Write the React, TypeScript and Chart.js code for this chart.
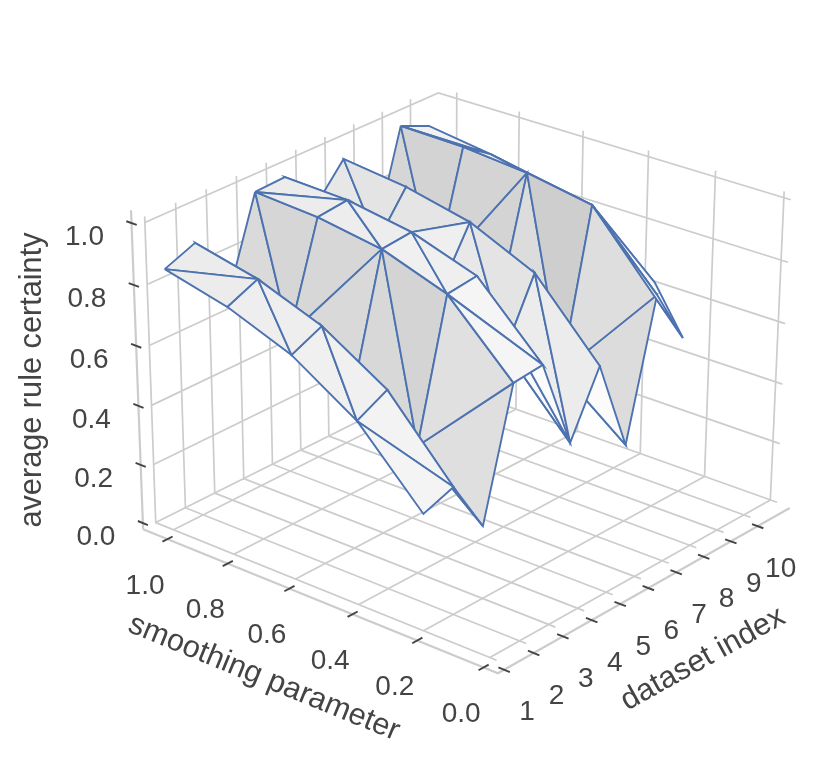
import React, { useEffect, useRef } from "react";
import { Chart, registerables } from "chart.js";
Chart.register(...registerables);

// ---- data -----------------------------------------------------------------
const datasetIndex = [1, 2, 3, 4, 5, 6, 7, 8, 9, 10];
const smoothing = [1, 0.8, 0.6, 0.4, 0.2];
const smoothingOfDataset10 = [1, 0.8, 0.6, 0.288, 0.2];
const smoothingTicks = [1, 0.8, 0.6, 0.4, 0.2, 0];
const certaintyTicks = [0, 0.2, 0.4, 0.6, 0.8, 1];

const certainty1 = [0.871, 0.82, 0.739, 0.604, 0.384];
const certainty2 = [0.911, 0.864, 0.785, 0.655, 0.42];
const certainty3 = [0.679, 0.636, 0.524, 0.424, 0.241];
const certainty4 = [0.988, 0.974, 0.94, 0.867, 0.657];
const certainty5 = [0.993, 0.985, 0.95, 0.879, 0.667];
const certainty6 = [0.852, 0.805, 0.721, 0.593, 0.364];
const certainty7 = [0.967, 0.941, 0.894, 0.798, 0.568];
const certainty8 = [0.637, 0.605, 0.559, 0.426, 0.258];
const certainty9 = [0.992, 0.987, 0.967, 0.929, 0.707];
const certainty10 = [0.95, 0.92, 0.88, 0.669, 0.519];
const certainty = [certainty1, certainty2, certainty3, certainty4, certainty5, certainty6, certainty7, certainty8, certainty9, certainty10];

// which diagonal splits each mesh cell
type Diag = "A" | "B";
const diagonals: Diag[][] = [
  ["A", "B", "B", "A"], ["B", "B", "B", "B"], ["B", "A", "B", "A"],
  ["A", "B", "B", "A"], ["B", "B", "A", "A"], ["B", "B", "B", "B"],
  ["B", "B", "B", "B"], ["B", "A", "B", "A"], ["A", "B", "B", "A"],
];

// ---- 3D box limits and camera ---------------------------------------------
const DF = 1, DM = 11, VF = -0.02, VM = 1.06, ZF = 0, ZM = 1.02;
const dD = (DM - DF) / 48, dV = (VM - VF) / 48, dZ = (ZM - ZF) / 48;

const cameraFit: number[][] = [
  [1, VM, 0, 152, 523], [1, VM, 1, 141, 221], [8, VM, 0, 355, 425], [8, VM, 1, 350, 131],
  [11, VM, 1, 437, 93], [11, VM, 0, 439, 383], [11, 0, 1, 785, 198], [11, 0, 0, 774, 500],
  [11, 0.4, 1, 649, 157], [11, 0.4, 0, 643, 453], [11, 0.8, 0, 518, 408], [11, 0.8, 1, 520, 118],
  [1, VF - dV, -dZ, 503, 670], [10, VF - dV, -dZ, 751, 523], [5, VF - dV, -dZ, 618, 602],
  [DF - dD, 1, -dZ, 163, 536], [DF - dD, 0.6, -dZ, 288, 588], [DF - dD, 0.2, -dZ, 418, 643], [DF - dD, 0, -dZ, 487, 671],
  [DF - dD, VM + dV, 0, 148, 523], [DF - dD, VM + dV, 1, 136, 223], [DF - dD, VM + dV, 0.4, 143, 405],
];
function solveCamera(c: number[][]) {
  const n = 11;
  const A = Array.from({ length: n }, () => new Array(n + 1).fill(0));
  const add = (r: number[], b: number) => {
    for (let i = 0; i < n; i++) {
      for (let j = 0; j < n; j++) A[i][j] += r[i] * r[j];
      A[i][n] += r[i] * b;
    }
  };
  for (const [X, Y, Z, x0, y0] of c) {
    const x = x0 / 1000, y = y0 / 1000;
    add([X, Y, Z, 1, 0, 0, 0, 0, -x * X, -x * Y, -x * Z], x);
    add([0, 0, 0, 0, X, Y, Z, 1, -y * X, -y * Y, -y * Z], y);
  }
  for (let i = 0; i < n; i++) {
    let m = i;
    for (let k = i + 1; k < n; k++) if (Math.abs(A[k][i]) > Math.abs(A[m][i])) m = k;
    [A[i], A[m]] = [A[m], A[i]];
    for (let k = 0; k < n; k++) {
      if (k === i) continue;
      const f = A[k][i] / A[i][i];
      for (let j = i; j <= n; j++) A[k][j] -= f * A[i][j];
    }
  }
  const p = A.map((r, i) => r[n] / r[i]);
  return [
    [p[0] * 1000, p[1] * 1000, p[2] * 1000, p[3] * 1000],
    [p[4] * 1000, p[5] * 1000, p[6] * 1000, p[7] * 1000],
    [p[8], p[9], p[10], 1],
  ];
}
const P = solveCamera(cameraFit);
const dot = (r: number[], d: number, v: number, z: number) => r[0] * d + r[1] * v + r[2] * z + r[3];
const proj = (d: number, v: number, z: number) => {
  const w = dot(P[2], d, v, z);
  return { x: dot(P[0], d, v, z) / w, y: dot(P[1], d, v, z) / w };
};
const depth = (d: number, v: number, z: number) => dot(P[2], d, v, z);

// ---- mesh -----------------------------------------------------------------
function triangles() {
  const t: any[] = [];
  for (let i = 0; i < 9; i++) for (let j = 0; j < 4; j++) {
    if (i === 5 && j === 1) {
      t.push([[4, 2], [6, 2], [5, 1], "#e8e8e8"], [[4, 2], [6, 2], [5, 2], "#efefef"], [[5, 1], [6, 1], [6, 2]]);
      continue;
    }
    if (diagonals[i][j] === "A") t.push([[i, j], [i + 1, j], [i + 1, j + 1]], [[i, j], [i, j + 1], [i + 1, j + 1]]);
    else t.push([[i + 1, j], [i, j], [i, j + 1]], [[i + 1, j], [i + 1, j + 1], [i, j + 1]]);
  }
  return t;
}
function shade(a: number[], b: number[], c: number[]) {
  const u = [b[0] - a[0], b[1] - a[1], b[2] - a[2]], w = [c[0] - a[0], c[1] - a[1], c[2] - a[2]];
  let n = [u[1] * w[2] - u[2] * w[1], u[2] * w[0] - u[0] * w[2], u[0] * w[1] - u[1] * w[0]];
  const m = Math.hypot(n[0], n[1], n[2]) * (n[2] < 0 ? -1 : 1);
  n = n.map((t) => t / m);
  const g = Math.round(255 * Math.min(0.985, 0.925 + 0.28 * n[0] - 0.05 * n[1]));
  return `rgb(${g},${g},${g})`;
}
function line(pts: number[][], color: string, width: number, extra: any = {}) {
  return {
    data: pts.map((p) => proj(p[0], p[1], p[2])),
    showLine: true, borderColor: color, borderWidth: width, pointRadius: 0,
    fill: false, clip: false, tension: 0, borderCapStyle: "butt", ...extra,
  };
}
function build() {
  const surface = triangles().map((tr: any) => {
    const v = tr.slice(0, 3).map(([i, j]: number[]) => [
      datasetIndex[i], (i === 9 ? smoothingOfDataset10 : smoothing)[j], certainty[i][j],
    ]);
    const dep = v.reduce((s: number, p: number[]) => s + depth(p[0], p[1], p[2]), 0) / 3;
    return {
      dep,
      ds: line([v[0], v[1], v[2], v[0]], "#4c72b0", 1.9, {
        fill: "shape", backgroundColor: tr[3] || shade(v[0], v[1], v[2]), borderJoinStyle: "miter",
      }),
    };
  }).sort((a: any, b: any) => a.dep - b.dep).map((s: any) => s.ds);

  const G = "#cccccc", grid: any[] = [];
  for (const d of datasetIndex) grid.push(line([[d, VF, ZF], [d, VM, ZF], [d, VM, ZM]], G, 1.7));
  for (const v of smoothingTicks) grid.push(line([[DF, v, ZF], [DM, v, ZF], [DM, v, ZM]], G, 1.7));
  for (const z of certaintyTicks) grid.push(line([[DF, VM, z], [DM, VM, z], [DM, VF, z]], G, 1.7));
  const axes = [
    line([[DF - dD, VM + dV, ZF - dZ], [DF - dD, VF - dV, ZF - dZ], [DM + dD, VF - dV, ZF - dZ]], G, 2.2),
    line([[DF - dD, VM + dV, ZF - dZ], [DF - dD, VM + dV, ZM + dZ]], G, 2.2),
  ];
  const T = "#444444", ticks: any[] = [];
  for (const d of datasetIndex) ticks.push(line([[d, VF - dV - 0.017, -dZ], [d, VF - dV + 0.017, -dZ]], T, 1.9));
  for (const v of smoothingTicks) ticks.push(line([[DF - dD - 0.17, v, -dZ], [DF - dD + 0.17, v, -dZ]], T, 1.9));
  for (const z of certaintyTicks) ticks.push(line([[DF - dD, VM + dV - 0.017, z], [DF - dD, VM + dV + 0.017, z]], T, 1.9));
  return [...ticks, ...surface, ...axes, ...grid];
}
const labels = {
  id: "labels3d",
  afterDraw(c: any) {
    const g = c.ctx;
    g.save();
    g.fillStyle = "#444444"; g.textAlign = "center"; g.textBaseline = "middle";
    g.font = '28px "Liberation Sans"';
    const put = (s: string, p: { x: number; y: number }, ox: number, oy: number) => g.fillText(s, p.x + ox, p.y + oy);
    for (const d of datasetIndex) put(String(d), proj(d, VF - dV, -dZ), 23, 43);
    for (const v of smoothingTicks) put(v.toFixed(1), proj(DF - dD, v, -dZ), -22.5, 47);
    for (const z of certaintyTicks) put(z.toFixed(1), proj(DF - dD, VM + dV, z), -47, 14);
    g.font = '30.7px "Liberation Sans"';
    const rot = (s: string, x: number, y: number, a: number) => {
      g.save(); g.translate(x, y); g.rotate((a * Math.PI) / 180); g.fillText(s, 0, 0); g.restore();
    };
    rot("smoothing parameter", 264, 678, 22.2);
    rot("dataset index", 703, 659, -29);
    rot("average rule certainty", 33, 380, -90);
    g.restore();
  },
};
export default function App() {
  const ref = useRef<HTMLCanvasElement>(null);
  useEffect(() => {
    const chart = new Chart(ref.current!, {
      type: "scatter",
      data: { datasets: build() } as any,
      plugins: [labels as any],
      options: {
        animation: false, responsive: false, maintainAspectRatio: false,
        layout: { padding: 0 },
        plugins: { legend: { display: false }, tooltip: { enabled: false } },
        scales: {
          x: { type: "linear", min: 0, max: 830, display: false },
          y: { type: "linear", min: 0, max: 766, reverse: true, display: false },
        },
      },
    });
    return () => chart.destroy();
  }, []);
  return (
    <div style={{ position: "fixed", left: 0, top: 0, width: 830, height: 766, background: "#fff" }}>
      <canvas ref={ref} width={830} height={766} style={{ display: "block" }} />
    </div>
  );
}
